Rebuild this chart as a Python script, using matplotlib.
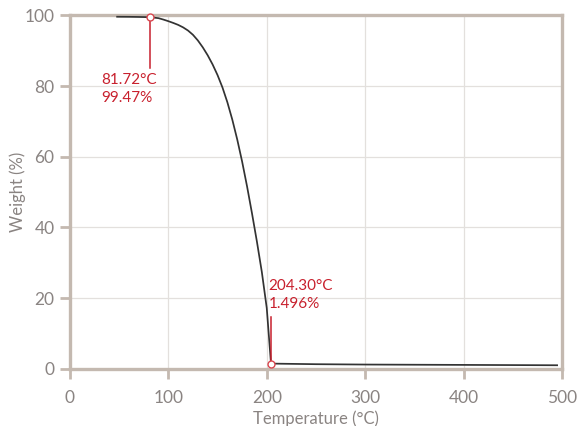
import matplotlib
matplotlib.use("Agg")
import matplotlib.pyplot as plt

plt.rcParams['font.family'] = ['Lato', 'DejaVu Sans']

temperature = [48, 60, 70, 81.72, 90, 95, 100, 105, 110, 115, 120, 125, 130, 135, 140,
               145, 150, 155, 160, 165, 170, 175, 180, 185, 190, 195, 200, 204.3,
               210, 250, 300, 400, 495]
weight = [99.6, 99.58, 99.54, 99.47, 99.2, 98.8, 98.35, 97.85, 97.3, 96.6, 95.7, 94.5,
          92.9, 90.95, 88.7, 86.1, 83.1, 79.6, 75.4, 70.5, 64.9, 58.6, 51.6, 44.0,
          36.0, 27.4, 17.2, 1.496,
          1.45, 1.3, 1.2, 1.1, 1.0]

ann_points = [(81.72, 99.47), (204.30, 1.496)]
ann_labels = ["81.72°C\n99.47%", "204.30°C\n1.496%"]

xticks = [0, 100, 200, 300, 400, 500]
yticks = [0, 20, 40, 60, 80, 100]

frame_c = '#c4b9b0'
grid_c = '#e3e0dd'
text_c = '#8a8482'
red = '#c8202d'

fig = plt.figure(figsize=(5.79, 4.26), dpi=100)
ax = fig.add_axes([0.1207, 0.1343, 0.85, 0.8297])
ax.set_xlim(0, 500)
ax.set_ylim(0, 100)
ax.set_xticks(xticks)
ax.set_yticks(yticks)
ax.grid(True, color=grid_c, lw=0.9)
ax.set_axisbelow(True)
for s in ax.spines.values():
    s.set_color(frame_c)
    s.set_linewidth(2.4)
ax.tick_params(axis='both', colors=frame_c, width=2, length=7, labelcolor=text_c,
               labelsize=12.5)
ax.tick_params(axis='x', pad=8)
ax.tick_params(axis='y', pad=4)

ax.plot(temperature, weight, color='#333333', lw=1.25, zorder=3)

# annotation 1
x1, y1 = ann_points[0]
ax.plot([x1, x1], [y1, 85], color=red, lw=1.1, zorder=4)
ax.text(32.3, 83.7, ann_labels[0], color=red, fontsize=11, va='top', ha='left',
        linespacing=1.35)
# annotation 2
x2, y2 = ann_points[1]
ax.plot([x2, x2], [y2, 14.7], color=red, lw=1.1, zorder=4)
ax.text(201.6, 25.4, ann_labels[1], color=red, fontsize=11, va='top', ha='left',
        linespacing=1.35)

ax.plot([p[0] for p in ann_points], [p[1] for p in ann_points], 'o', ms=5,
        mfc='white', mec='#d9474f', mew=1.0, zorder=5, clip_on=False)

ax.set_xlabel('Temperature (°C)', color=text_c, fontsize=12)
ax.set_ylabel('Weight (%)', color=text_c, fontsize=12)
ax.xaxis.set_label_coords(0.5, -0.118)
ax.yaxis.set_label_coords(-0.09, 0.5)

fig.savefig('out.png', dpi=100)
